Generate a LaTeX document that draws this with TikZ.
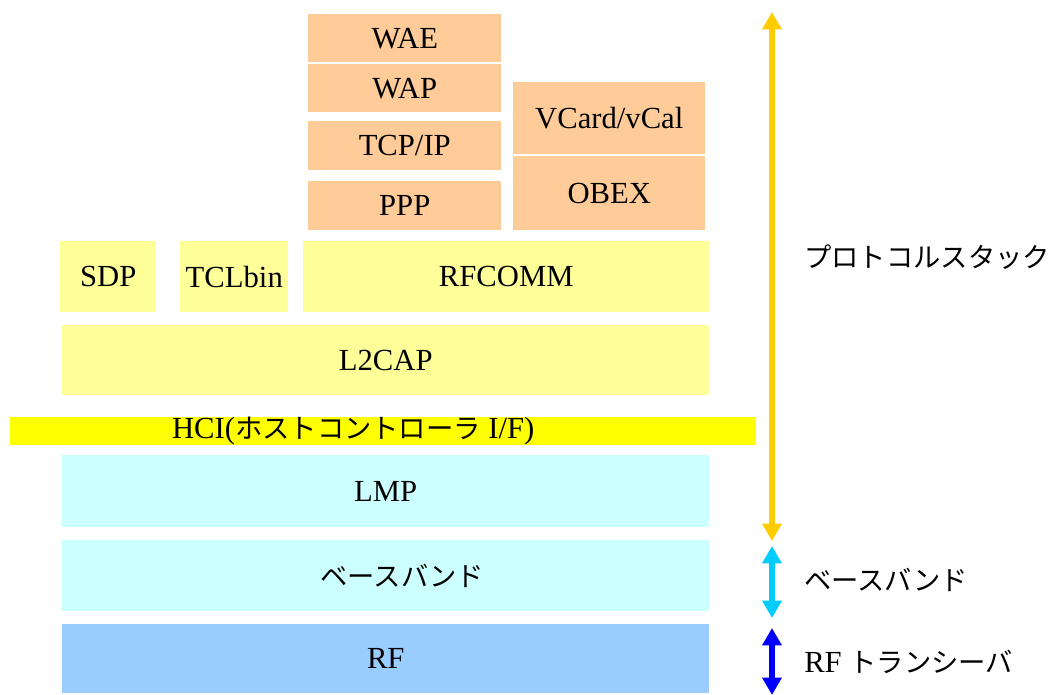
\documentclass[tikz,border=0pt]{standalone}
\usepackage{fontspec}
\setmainfont{Liberation Serif}
\newfontfamily\jp{Noto Sans CJK JP}[Scale=0.89]
\usetikzlibrary{arrows.meta}
\definecolor{orangebox}{HTML}{FFCC99}
\definecolor{yellowbox}{HTML}{FFFF99}
\definecolor{hcibox}{HTML}{FFFF00}
\definecolor{cyanbox}{HTML}{CCFFFF}
\definecolor{rfbox}{HTML}{99CCFF}
\definecolor{arrorange}{HTML}{FFCC00}
\definecolor{arrcyan}{HTML}{00CCFF}
\definecolor{arrblue}{HTML}{0000FF}
\begin{document}
\begin{tikzpicture}[x=0.75pt,y=-0.75pt,
  box/.style={fill=#1, draw=none, inner sep=0pt, anchor=north west,
    font=\fontsize{23}{27}\selectfont},
  wh/.style 2 args={minimum width=#1*0.75pt, minimum height=#2*0.75pt},
  lab/.style={anchor=west, inner sep=0pt, font=\fontsize{23}{27}\selectfont},
  rng/.style={draw=#1, line width=4.5pt,
    {Triangle[width=14pt,length=13pt]}-{Triangle[width=14pt,length=13pt]}}
]
\useasboundingbox (0,0) rectangle (1053,695);
% upper stack
\node[box=orangebox, wh={193}{48}] (wae) at (308,14) {WAE};
\node[box=orangebox, wh={193}{48}] (wap) at (308,64) {WAP};
\node[box=orangebox, wh={193}{49}] (tcp) at (308,121) {TCP/IP};
\node[box=orangebox, wh={193}{49}] (ppp) at (308,181) {PPP};
\node[box=orangebox, wh={192}{72}] (vcard) at (513,82) {VCard/vCal};
\node[box=orangebox, wh={192}{74}] (obex) at (513,156) {OBEX};
% middle
\node[box=yellowbox, wh={96}{71}] (sdp) at (60,241) {SDP};
\node[box=yellowbox, wh={108}{71}] (tcl) at (180,241) {TCLbin};
\node[box=yellowbox, wh={406}{71}] (rfcomm) at (303,241) {RFCOMM};
\node[box=yellowbox, wh={647}{70}] (l2cap) at (62,325) {L2CAP};
\node[box=hcibox, wh={746}{26}] (hci) at (10,417) {HCI({\jp ホストコントローラ} I/F)\kern45pt\relax};
% lower
\node[box=cyanbox, wh={647}{72}] (lmp) at (62,455) {LMP};
\node[box=cyanbox, wh={647}{71}] (bb) at (62,540) {\hspace{25pt}\jp ベースバンド};
\node[box=rfbox, wh={647}{69}] (rf) at (62,624) {RF};
% ranges
\coordinate (o1) at (772,12);
\coordinate (o2) at (772,541);
\coordinate (c1) at (772,546);
\coordinate (c2) at (772,618);
\coordinate (b1) at (772,628);
\coordinate (b2) at (772,695);
\draw[rng=arrorange] (o1) -- (o2);
\draw[rng=arrcyan] (c1) -- (c2);
\draw[rng=arrblue] (b1) -- (b2);
\node[lab] (lproto) at (804,257) {\jp プロトコルスタック};
\node[lab] (lbb) at (804,580) {\jp ベースバンド};
\node[lab] (lrf) at (804,662) {RF {\jp トランシーバ}};
\end{tikzpicture}
\end{document}
